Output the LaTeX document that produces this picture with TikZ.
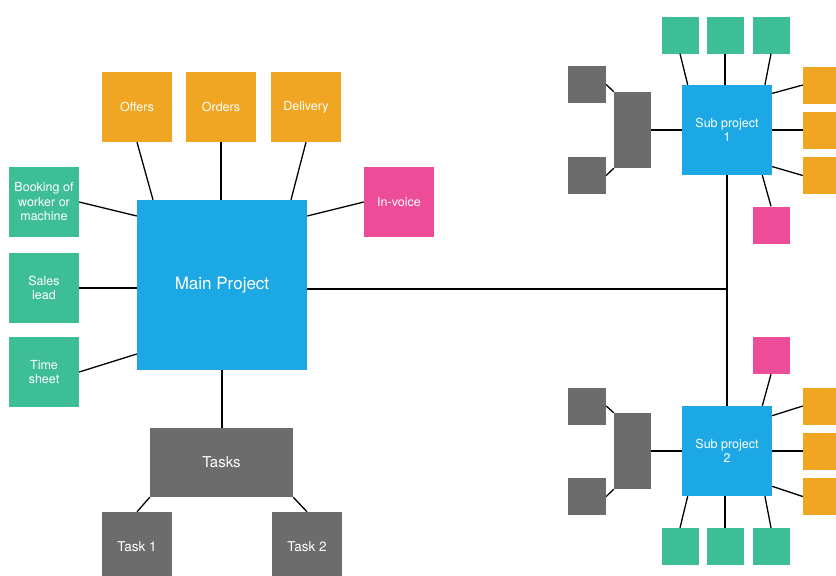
\documentclass[tikz,border=0pt]{standalone}
\usepackage{fontspec}
\setmainfont{TeX Gyre Heros}
\definecolor{projblue}{RGB}{28,168,228}
\definecolor{taskgray}{RGB}{108,108,108}
\definecolor{stepgreen}{RGB}{62,190,150}
\definecolor{saleorange}{RGB}{240,166,34}
\definecolor{billpink}{RGB}{236,76,152}
\tikzset{
  box/.style={rectangle, inner sep=0pt, text=white, align=center, font=\fontsize{12.5}{14.5}\selectfont},
  bluebox/.style={box, fill=projblue},
  graybox/.style={box, fill=taskgray},
  greenbox/.style={box, fill=stepgreen},
  orangebox/.style={box, fill=saleorange},
  pinkbox/.style={box, fill=billpink},
  small/.style={minimum width=37pt, minimum height=37pt},
  mid/.style={minimum width=70pt, minimum height=70pt},
  link/.style={line width=1.3pt}
}
\begin{document}
\begin{tikzpicture}[x=1pt, y=-1pt]
    \useasboundingbox (0,0) rectangle (836,576);
    \clip (0,0) rectangle (836,576);

    % Main project and its boxes
    \node[bluebox, minimum width=170pt, minimum height=170pt, font=\fontsize{17}{20}\selectfont] (main) at (222,285) {Main Project};
    \node[orangebox, mid] (offers) at (137,107) {Offers};
    \node[orangebox, mid] (orders) at (221,107) {Orders};
    \node[orangebox, mid] (delivery) at (306,107) {Delivery};
    \node[greenbox, mid] (booking) at (44,202) {Booking of\\worker or\\machine};
    \node[greenbox, mid] (sales) at (44,288) {Sales\\lead};
    \node[greenbox, mid] (timesheet) at (44,372) {Time\\sheet};
    \node[pinkbox, mid] (invoice) at (399,202) {In-voice};

    % Tasks
    \node[graybox, minimum width=143pt, minimum height=69pt, font=\fontsize{15}{18}\selectfont] (tasks) at (221.5,462.5) {Tasks};
    \node[graybox, mid, font=\fontsize{13.5}{16}\selectfont] (task1) at (137,547) {Task 1};
    \node[graybox, mid, font=\fontsize{13.5}{16}\selectfont] (task2) at (307,547) {Task 2};

    % Sub project 1
    \node[bluebox, minimum width=90pt, minimum height=90pt] (sub1) at (727,130) {Sub project\\1};
    \node[greenbox, small] (s1g1) at (680,35) {};
    \node[greenbox, small] (s1g2) at (725,35) {};
    \node[greenbox, small] (s1g3) at (771,35) {};
    \node[orangebox, small] (s1o1) at (821.5,85) {};
    \node[orangebox, small] (s1o2) at (821.5,130) {};
    \node[orangebox, small] (s1o3) at (821.5,175.5) {};
    \node[pinkbox, small] (s1p) at (771,225) {};
    \node[graybox, minimum width=37pt, minimum height=76pt] (s1t) at (632.5,130) {};
    \node[graybox, minimum width=38pt, minimum height=37pt] (s1t1) at (587,84.5) {};
    \node[graybox, minimum width=38pt, minimum height=37pt] (s1t2) at (587,175.5) {};

    % Sub project 2
    \node[bluebox, minimum width=90pt, minimum height=90pt] (sub2) at (727,451) {Sub project\\2};
    \node[greenbox, small] (s2g1) at (680,546.5) {};
    \node[greenbox, small] (s2g2) at (725,546.5) {};
    \node[greenbox, small] (s2g3) at (771,546.5) {};
    \node[orangebox, small] (s2o1) at (821.5,406) {};
    \node[orangebox, small] (s2o2) at (821.5,451) {};
    \node[orangebox, small] (s2o3) at (821.5,496.5) {};
    \node[pinkbox, small] (s2p) at (771,355.5) {};
    \node[graybox, minimum width=37pt, minimum height=76pt] (s2t) at (632.5,451) {};
    \node[graybox, minimum width=38pt, minimum height=37pt] (s2t1) at (587,406) {};
    \node[graybox, minimum width=38pt, minimum height=37pt] (s2t2) at (587,496.5) {};

    % Links of the main project
    \draw[link] (offers.south) -- (main.129);
    \draw[link] (orders.south) -- (orders.south |- main.north);
    \draw[link] (delivery.south) -- (main.51);
    \draw[link] (booking.east) -- (main.141);
    \draw[link] (sales.east) -- (sales.east -| main.west);
    \draw[link] (timesheet.east) -- (main.219);
    \draw[link] (invoice.west) -- (main.39);
    \draw[link] (main.south) -- (main.south |- tasks.north);
    \draw[link] (tasks.south west) -- (task1.north);
    \draw[link] (tasks.south east) -- (task2.north);
    \draw[link] ([yshift=-4pt]main.east) -- ([yshift=-4pt]main.east -| sub1.south);
    \draw[link] (sub1.south) -- (sub2.north);

    % Links of sub project 1
    \draw[link] (s1g1.south) -- (sub1.131);
    \draw[link] (s1g2.south) -- (s1g2.south |- sub1.north);
    \draw[link] (s1g3.south) -- (sub1.50);
    \draw[link] (s1o1.west) -- (sub1.39);
    \draw[link] (s1o2.west) -- (sub1.east);
    \draw[link] (s1o3.west) -- (sub1.-39);
    \draw[link] (s1p.north) -- (sub1.-52);
    \draw[link] (s1t.east) -- (sub1.west);
    \draw[link] (s1t1.east) -- (s1t.north west);
    \draw[link] (s1t2.east) -- (s1t.south west);

    % Links of sub project 2
    \draw[link] (s2g1.north) -- (sub2.229);
    \draw[link] (s2g2.north) -- (s2g2.north |- sub2.south);
    \draw[link] (s2g3.north) -- (sub2.-50);
    \draw[link] (s2o1.west) -- (sub2.38);
    \draw[link] (s2o2.west) -- (sub2.east);
    \draw[link] (s2o3.west) -- (sub2.-38);
    \draw[link] (s2p.south) -- (sub2.52);
    \draw[link] (s2t.east) -- (sub2.west);
    \draw[link] (s2t1.east) -- (s2t.north west);
    \draw[link] (s2t2.east) -- (s2t.south west);
\end{tikzpicture}
\end{document}
